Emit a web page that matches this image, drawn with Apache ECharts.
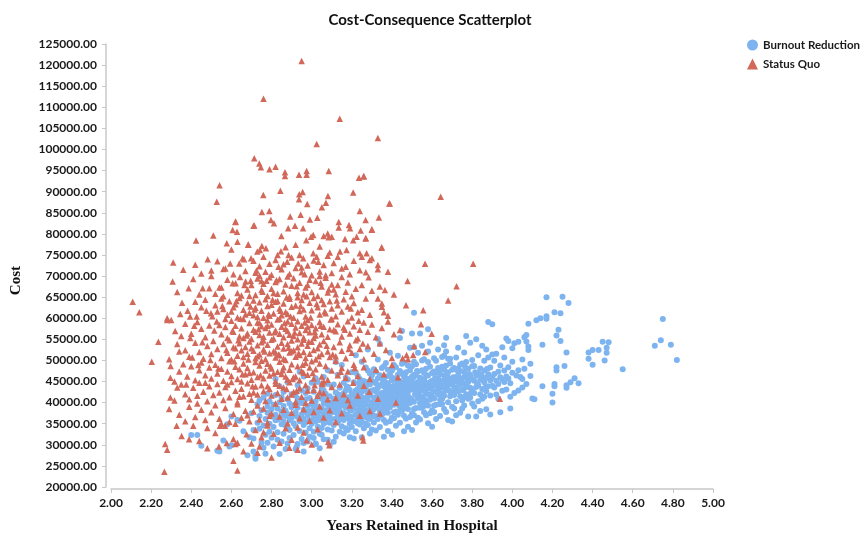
<!DOCTYPE html>
<html><head><meta charset="utf-8">
<script src="https://cdn.jsdelivr.net/npm/echarts@6/dist/echarts.min.js"></script>
<style>html,body{margin:0;padding:0;background:#fff}#c{width:860px;height:534px}</style>
</head><body><div id="c"></div>
<script>
const chartTitle = 'Cost-Consequence Scatterplot';
const seriesNames = ['Burnout Reduction', 'Status Quo'];
const xAxisTitle = 'Years Retained in Hospital';
const yAxisTitle = 'Cost';
const xTicks = [2.0, 5.0, 0.2];
const yTicks = [20000, 125000, 5000];

const burnoutReduction = [
[2.40,32300],[2.43,32300],[2.45,29800],[2.53,28600],[2.54,28400],[2.56,31000],[2.58,34900],[2.59,29600],[2.60,29900],[2.60,36700],[2.63,35900],[2.64,35700],[2.66,33200],[2.68,27500],[2.69,31800],
[2.70,37500],[2.71,33500],[2.71,31500],[2.71,28400],[2.72,27200],[2.72,26700],[2.72,27900],[2.73,39600],[2.73,35200],[2.74,36800],[2.74,33800],[2.75,30500],[2.75,38200],[2.76,34600],[2.76,41200],[2.77,27900],[2.77,36100],[2.77,32400],[2.78,30500],[2.78,37600],[2.78,39100],[2.79,35000],[2.79,33100],[2.79,40300],[2.80,36700],[2.80,31700],[2.80,38400],[2.76,29300],[2.74,40500],[2.78,42100],
[2.81,34200],[2.81,39500],[2.81,29600],[2.82,37100],[2.82,35800],[2.82,41800],[2.83,33000],[2.83,38600],[2.83,31200],[2.84,36400],[2.84,40100],[2.84,43900],[2.85,34900],[2.85,37900],[2.85,30800],[2.86,39200],[2.86,35500],[2.86,32600],[2.86,42500],[2.87,36800],[2.87,38100],[2.87,29000],[2.88,34000],[2.88,40800],[2.88,37300],[2.88,44800],[2.89,35900],[2.89,33500],[2.89,39800],[2.89,31600],[2.90,36400],[2.90,38900],[2.90,42000],[2.82,45600],[2.84,27800],[2.87,34600],[2.85,41300],[2.83,36000],[2.88,30300],[2.86,37000],
[2.91,35100],[2.91,39400],[2.91,32300],[2.92,37700],[2.92,41700],[2.92,34400],[2.93,36600],[2.93,38800],[2.93,30200],[2.93,44100],[2.94,35600],[2.94,40200],[2.94,33300],[2.95,37200],[2.95,39900],[2.95,42900],[2.95,31400],[2.96,36100],[2.96,34700],[2.96,38300],[2.96,46200],[2.97,35300],[2.97,40800],[2.97,32900],[2.97,37800],[2.98,36900],[2.98,39200],[2.98,43400],[2.98,30800],[2.99,35800],[2.99,38000],[2.99,41100],[2.99,33900],[3.00,37400],[3.00,35000],[3.00,39700],[3.00,44700],[2.92,29000],[2.94,47300],[2.96,28400],[2.97,42300],[2.95,36000],[2.99,31900],[2.91,37000],[2.93,40900],[2.925,29500],[2.96,30400],[3.02,30200],
[3.01,36300],[3.01,38700],[3.01,33100],[3.01,42600],[3.02,35500],[3.02,40300],[3.02,37600],[3.02,30300],[3.03,39100],[3.03,34300],[3.03,36800],[3.03,44900],[3.04,37900],[3.04,41800],[3.04,32600],[3.04,35900],[3.05,38600],[3.05,36500],[3.05,43300],[3.05,34000],[3.06,39800],[3.06,37100],[3.06,31300],[3.06,46100],[3.07,35400],[3.07,40700],[3.07,38200],[3.07,42100],[3.08,36600],[3.08,33600],[3.08,39500],[3.08,47700],[3.09,37300],[3.09,41500],[3.09,35200],[3.09,29900],[3.10,38900],[3.10,36100],[3.10,43800],[3.10,40100],[3.02,45800],[3.04,29200],[3.06,35000],[3.03,41400],[3.05,32400],[3.07,36900],[3.08,44500],[3.09,39000],[3.01,31600],[3.06,42900],[3.04,38300],[3.10,33400],[3.02,39000],[3.05,40900],[3.08,31200],
[3.11,37800],[3.11,40900],[3.11,34700],[3.11,44300],[3.12,38500],[3.12,36200],[3.12,42400],[3.12,31900],[3.13,39600],[3.13,37100],[3.13,46600],[3.13,35300],[3.14,40500],[3.14,38100],[3.14,33100],[3.14,43500],[3.15,36900],[3.15,39300],[3.15,41800],[3.15,48900],[3.16,37500],[3.16,35900],[3.16,44700],[3.16,40200],[3.17,38800],[3.17,42900],[3.17,33900],[3.17,36400],[3.18,39900],[3.18,41300],[3.18,37200],[3.18,45500],[3.19,38300],[3.19,35000],[3.19,43000],[3.19,40700],[3.20,39100],[3.20,36700],[3.20,47200],[3.20,34200],[3.11,30700],[3.13,42000],[3.15,34400],[3.17,40000],[3.19,31800],[3.12,49600],[3.14,36000],[3.16,42200],[3.18,33500],[3.20,41900],[3.13,38600],[3.15,37000],[3.17,45900],[3.19,36000],[3.12,40000],[3.14,41400],[3.16,32700],[3.18,43700],[3.20,38200],[3.11,39000],
[3.21,38700],[3.21,41600],[3.21,35600],[3.21,44800],[3.22,39700],[3.22,37200],[3.22,42900],[3.22,33200],[3.23,40800],[3.23,38200],[3.23,46300],[3.23,36300],[3.24,41900],[3.24,39200],[3.24,34800],[3.24,43800],[3.25,37700],[3.25,40300],[3.25,42500],[3.25,49700],[3.26,38600],[3.26,36800],[3.26,45100],[3.26,41100],[3.27,39500],[3.27,43900],[3.27,35000],[3.27,37900],[3.28,40600],[3.28,42100],[3.28,38000],[3.28,47600],[3.29,39200],[3.29,36100],[3.29,44300],[3.29,41800],[3.30,40000],[3.30,37400],[3.30,46500],[3.30,33600],[3.21,31500],[3.23,43200],[3.25,35500],[3.27,41000],[3.29,32700],[3.22,51200],[3.24,37000],[3.26,43300],[3.28,34700],[3.30,42800],[3.23,39700],[3.25,38400],[3.27,48300],[3.29,37200],[3.22,41000],[3.24,45600],[3.26,33900],[3.28,44900],[3.30,39100],[3.21,40200],[3.23,35100],[3.25,44300],[3.27,36600],[3.29,46900],[3.24,40700],[3.26,39800],[3.28,36300],[3.22,47100],[3.25,31800],[3.28,52600],
[3.31,41200],[3.31,38400],[3.31,44900],[3.31,35300],[3.32,42700],[3.32,40100],[3.32,47300],[3.32,36800],[3.33,43500],[3.33,39300],[3.33,41700],[3.33,50200],[3.34,38000],[3.34,44100],[3.34,40900],[3.34,34200],[3.35,42300],[3.35,45800],[3.35,39700],[3.35,37100],[3.36,41000],[3.36,43800],[3.36,48600],[3.36,35900],[3.37,40400],[3.37,42900],[3.37,38700],[3.37,46200],[3.38,41600],[3.38,44600],[3.38,37600],[3.38,33300],[3.39,43100],[3.39,40000],[3.39,51800],[3.39,38900],[3.40,42000],[3.40,45300],[3.40,36400],[3.40,39600],[3.31,47900],[3.32,33400],[3.33,45700],[3.34,37000],[3.35,48200],[3.36,39000],[3.37,35200],[3.38,42600],[3.39,46700],[3.40,32400],[3.31,43000],[3.32,38900],[3.33,36100],[3.34,46500],[3.35,41400],[3.36,37600],[3.37,44700],[3.38,39800],[3.39,35600],[3.40,43700],[3.32,44600],[3.34,42000],[3.36,45200],[3.38,47800],[3.33,40600],[3.35,38300],[3.37,41800],[3.39,42200],[3.31,36700],[3.34,53900],[3.36,31900],[3.38,40500],[3.40,47600],[3.33,55100],[3.37,49400],
[3.41,42400],[3.41,39500],[3.41,45800],[3.41,36300],[3.42,43700],[3.42,41000],[3.42,48400],[3.42,37900],[3.43,44200],[3.43,40300],[3.43,42600],[3.43,51100],[3.44,39100],[3.44,45100],[3.44,41900],[3.44,35200],[3.45,43300],[3.45,46900],[3.45,40600],[3.45,38100],[3.46,42000],[3.46,44800],[3.46,49500],[3.46,36900],[3.47,41300],[3.47,43900],[3.47,39600],[3.47,47200],[3.48,42500],[3.48,45600],[3.48,38500],[3.48,34300],[3.49,44000],[3.49,41100],[3.49,53000],[3.49,39900],[3.50,43100],[3.50,46200],[3.50,37400],[3.50,40700],[3.41,48900],[3.42,34500],[3.43,46600],[3.44,38000],[3.45,49200],[3.46,40000],[3.47,36200],[3.48,43600],[3.49,47700],[3.50,33500],[3.41,44000],[3.42,39800],[3.43,37100],[3.44,47500],[3.45,42400],[3.46,38600],[3.47,45700],[3.48,40800],[3.49,36600],[3.50,44700],[3.42,45600],[3.44,43000],[3.46,46200],[3.48,48800],[3.43,41600],[3.45,39300],[3.47,42800],[3.49,43200],[3.41,37700],[3.44,55300],[3.46,33200],[3.48,41500],[3.50,48600],[3.45,57000],[3.51,61300],[3.50,56400],
[3.51,43400],[3.51,40200],[3.51,46600],[3.51,37000],[3.52,44500],[3.52,41800],[3.52,49100],[3.52,38700],[3.53,44900],[3.53,41100],[3.53,43300],[3.53,51800],[3.54,39900],[3.54,45900],[3.54,42700],[3.54,36000],[3.55,44100],[3.55,47700],[3.55,41400],[3.55,38900],[3.56,42800],[3.56,45600],[3.56,50300],[3.56,37700],[3.57,42100],[3.57,44700],[3.57,40400],[3.57,48000],[3.58,43300],[3.58,46400],[3.58,39300],[3.58,35100],[3.59,44800],[3.59,41900],[3.59,54200],[3.59,40700],[3.60,43900],[3.60,47000],[3.60,38200],[3.60,41500],[3.51,49700],[3.52,35300],[3.53,47400],[3.54,38800],[3.55,50000],[3.56,40800],[3.57,37000],[3.58,44400],[3.59,48500],[3.60,34300],[3.52,46400],[3.54,43800],[3.56,47000],[3.58,49600],[3.53,42400],[3.55,40100],[3.57,43600],[3.59,44000],[3.51,38500],[3.54,56400],[3.58,57400],[3.55,53500],[3.53,36400],[3.58,52100],[3.60,45200],[3.52,42600],[3.56,39200],[3.59,37500],[3.51,53100],[3.54,41300],
[3.61,44200],[3.61,41000],[3.61,47400],[3.61,37800],[3.62,45300],[3.62,42600],[3.62,49900],[3.62,39500],[3.63,45700],[3.63,41900],[3.63,44100],[3.63,52600],[3.64,40700],[3.64,46700],[3.64,43500],[3.64,36800],[3.65,44900],[3.65,48500],[3.65,42200],[3.65,39700],[3.66,43600],[3.66,46400],[3.66,51100],[3.66,38500],[3.67,42900],[3.67,45500],[3.67,55400],[3.67,48800],[3.68,44100],[3.68,47200],[3.68,40100],[3.68,35900],[3.69,45600],[3.69,42700],[3.69,50400],[3.69,41500],[3.70,44700],[3.70,47800],[3.70,39000],[3.70,42300],[3.61,50500],[3.62,36100],[3.63,48200],[3.64,39600],[3.65,50800],[3.66,41600],[3.67,37800],[3.68,45200],[3.69,49300],[3.70,35500],[3.62,47200],[3.64,44600],[3.66,47800],[3.68,50400],[3.63,43200],[3.65,40900],[3.67,44400],[3.69,44800],[3.61,39300],[3.66,53600],[3.67,52100],
[3.71,45000],[3.71,41800],[3.71,48200],[3.71,38600],[3.72,46100],[3.72,43400],[3.72,50700],[3.72,40300],[3.73,46500],[3.73,42700],[3.73,44900],[3.73,53000],[3.74,41500],[3.74,47500],[3.74,44300],[3.74,37600],[3.75,45700],[3.75,49300],[3.75,43000],[3.75,40500],[3.76,44400],[3.76,47200],[3.76,51900],[3.76,39300],[3.77,43700],[3.77,46300],[3.77,42000],[3.77,49600],[3.78,44900],[3.78,48000],[3.78,40900],[3.78,36700],[3.79,46400],[3.79,43500],[3.79,54200],[3.80,45500],[3.80,48600],[3.80,39800],[3.80,43100],[3.72,37000],[3.74,49000],[3.76,41300],[3.78,45600],[3.80,50100],[3.73,48000],[3.75,38600],[3.77,55800],[3.79,41200],[3.71,43700],[3.76,46000],
[3.81,45200],[3.81,42300],[3.81,48700],[3.81,39100],[3.82,46400],[3.82,43700],[3.82,36700],[3.83,47000],[3.83,44100],[3.83,51200],[3.84,42000],[3.84,48100],[3.84,45400],[3.85,46100],[3.85,43200],[3.85,53500],[3.85,40900],[3.86,44800],[3.86,47600],[3.86,49900],[3.87,45900],[3.87,42700],[3.87,38400],[3.88,46700],[3.88,43900],[3.88,59100],[3.88,50700],[3.89,45300],[3.89,41700],[3.89,48300],[3.90,46100],[3.90,44000],[3.90,58600],[3.90,51400],[3.82,55000],[3.84,38000],[3.86,41400],[3.83,40300],[3.87,52600],[3.89,37200],
[3.91,46800],[3.91,43600],[3.91,49900],[3.92,45200],[3.92,51600],[3.92,41900],[3.93,47300],[3.93,44400],[3.93,40900],[3.94,46000],[3.94,48800],[3.94,37700],[3.95,45500],[3.95,53100],[3.95,42800],[3.96,47600],[3.96,44900],[3.96,50700],[3.97,46200],[3.97,43100],[3.97,55200],[3.98,45700],[3.98,48400],[3.98,54600],[3.99,44600],[3.99,41400],[4.00,47100],[4.00,49700],[4.00,52900],[3.99,38600],
[4.01,54100],[4.01,42300],[4.02,46400],[4.03,54400],[4.03,47700],[4.03,42900],[4.04,46100],[4.05,43600],[4.05,45600],[4.05,50200],[4.06,55500],[4.06,48000],[4.07,54500],[4.07,44400],[4.07,56000],[4.08,58700],[4.08,53300],[4.08,52500],[4.09,46300],[4.09,49200],[4.10,41000],[4.11,40800],
[4.12,59500],[4.14,60000],[4.15,53700],[4.15,43900],[4.17,60500],[4.17,59900],[4.17,65000],[4.20,42100],[4.20,40000],[4.21,44400],[4.21,43900],[4.21,61400],[4.22,55900],[4.22,48400],[4.22,47600],[4.23,57300],[4.24,54600],[4.24,61200],[4.25,65100],[4.26,48700],[4.27,51900],[4.27,44100],[4.27,43500],[4.28,63600],[4.29,44800],
[4.31,45800],[4.33,44600],[4.38,51900],[4.38,50400],[4.40,52500],[4.40,49000],[4.43,52500],[4.45,54400],[4.46,50000],[4.47,51800],[4.47,53000],[4.48,54300],[4.55,47900],[4.71,53500],[4.74,54800],[4.75,59800],[4.79,53700],[4.82,50100],
[3.155,41100],[3.175,43800],[3.195,39600],[3.215,42300],[3.235,44600],[3.255,40700],[3.275,42800],[3.295,45500],[3.315,39900],[3.325,43200],[3.345,41600],[3.355,44700],[3.365,40300],[3.385,43900],[3.395,46100],[3.405,40900],[3.415,43400],[3.425,45200],[3.435,39400],[3.445,44100],[3.455,41200],[3.465,46800],[3.475,42900],[3.485,44700],[3.495,40200],[3.505,45800],[3.515,42000],[3.525,47500],[3.535,43800],[3.545,40600],[3.555,45300],[3.565,43100],[3.575,46400],[3.585,41800],[3.595,44900],[3.605,42700],[3.615,45900],[3.625,43900],[3.635,47300],[3.645,42100],[3.655,45200],[3.665,43500],[3.675,46600],[3.685,42900],[3.695,44400],[3.705,46000],[3.715,42600],[3.725,47700],[3.735,44200],[3.745,45400],[3.755,43000],[3.765,48400],[3.775,44800],[3.785,46800],[3.795,42400],[3.815,47200],[3.825,44500],[3.845,46600],[3.865,43500],[3.875,48000]
];

const statusQuo = [
[2.95,121000],[2.76,112000],[3.14,107300],[3.33,102700],[3.025,101300],[2.714,97900],[2.739,96700],[2.747,95800],[2.79,95300],[2.82,95900],[2.867,94600],[2.867,93700],[2.937,94000],[2.975,94900],[2.975,94000],[3.085,94900],[3.236,93300],[3.259,93600],
[2.541,91500],[2.527,87600],[2.844,90200],[2.759,89200],[2.938,89400],[2.955,89900],[2.937,88200],[2.978,87100],[3.081,89000],[3.071,87400],[3.051,86300],[3.207,89800],[3.387,87200],[3.643,88800],[3.26,93700],[3.389,87200],
[2.752,85200],[2.789,85400],[2.621,82900],[2.714,82000],[2.797,83300],[2.812,82500],[2.893,84100],[2.945,84500],[2.991,83400],[3.028,83800],[3.24,85400],[3.269,83300],[3.335,83900],[2.71,81900],[3.135,82800],[3.135,81500],[3.186,82100],[3.191,81300],[2.883,81300],[2.917,81900],[2.957,81300],[3.244,80800],[3.30,81000],[3.30,81100],[2.606,80900],[2.628,80500],[2.62,82800],
[2.424,78400],[2.51,79600],[2.577,77800],[2.63,78100],[2.684,77400],[2.684,77500],[2.752,77100],[2.729,75800],[2.849,79500],[2.973,78500],[2.997,79300],[3.008,79700],[3.06,79500],[3.08,80100],[3.085,79200],[3.10,79300],[3.166,78800],[3.207,78500],[3.224,79300],[3.269,78900],[3.27,79000],[3.349,76800],[3.349,76700],[2.742,76200],[2.772,76600],[2.847,75900],[2.83,75000],[2.87,76800],[2.885,75000],[2.94,75000],[3.008,75400],[3.09,75600],[3.141,75800],[3.174,76200],[3.24,75400],[3.274,75400],[3.25,74600],[3.29,73800],[2.60,76300],[2.92,77400],[3.04,77000],
[2.31,73200],[2.36,71500],[2.42,72700],[2.45,70600],[2.482,74000],[2.50,71300],[2.53,73500],[2.56,71700],[2.57,71800],[2.594,73000],[2.61,70400],[2.639,73000],[2.656,74200],[2.663,74000],[2.67,71200],[2.698,74200],[2.71,73600],[2.72,70800],[2.74,72300],[2.76,74600],[2.77,71000],[2.79,72900],[2.80,70300],[2.82,73800],[2.85,71600],[2.86,72800],[2.878,73400],[2.89,70500],[2.90,74400],[2.92,71900],[2.933,73000],[2.95,70900],[2.958,74200],[2.98,72500],[3.00,70200],[3.01,73700],[3.033,73400],[3.025,74600],[3.04,71100],[3.06,72600],[3.08,74800],[3.10,70700],[3.11,73100],[3.13,74600],[3.15,71800],[3.17,72200],[3.19,70400],[3.21,73600],[3.24,71400],[3.27,70900],[3.30,74200],[3.33,72600],[3.33,71600],[3.38,71000],[3.565,72900],[3.805,72900],[2.74,70100],[2.95,72000],[3.07,70200],
[2.307,68700],[2.33,66200],[2.387,67100],[2.41,69300],[2.44,65600],[2.457,67100],[2.49,67100],[2.50,70000],[2.52,65800],[2.54,67300],[2.55,67300],[2.56,65200],[2.58,69100],[2.606,68300],[2.621,68300],[2.63,66000],[2.643,69800],[2.65,65400],[2.671,68700],[2.68,66800],[2.696,68900],[2.70,67900],[2.72,65500],[2.73,69400],[2.75,66700],[2.76,68200],[2.78,65300],[2.79,69700],[2.80,67000],[2.82,68600],[2.83,65800],[2.84,69300],[2.86,66400],[2.87,68000],[2.89,65100],[2.90,67700],[2.91,69500],[2.93,66000],[2.94,68400],[2.96,65600],[2.97,67300],[2.99,69100],[3.00,66200],[3.02,68800],[3.03,65300],[3.05,67500],[3.07,69600],[3.08,66100],[3.10,68000],[3.12,65700],[3.13,67900],[3.15,69800],[3.17,66300],[3.18,68500],[3.20,65200],[3.22,67000],[3.25,67900],[3.284,69700],[3.30,66500],[3.34,67500],[3.365,66700],[3.41,65600],[3.478,68800],[3.722,67600],[2.81,66000],[2.88,69900],[2.98,67900],[3.04,70000],[2.75,68800],[2.69,65300],[3.11,66800],
[2.108,63900],[2.141,61400],[2.28,60000],[2.345,61000],[2.354,63700],[2.382,61800],[2.394,60400],[2.42,63900],[2.427,60400],[2.45,62600],[2.47,64400],[2.498,61200],[2.505,60500],[2.52,63100],[2.55,64700],[2.56,62200],[2.58,60800],[2.59,64000],[2.60,61600],[2.62,63300],[2.63,60200],[2.64,64800],[2.66,62000],[2.67,60900],[2.68,63600],[2.69,61300],[2.71,64200],[2.72,62500],[2.73,60300],[2.74,63800],[2.75,61800],[2.77,64500],[2.78,62900],[2.79,60600],[2.80,63200],[2.81,61100],[2.83,64100],[2.84,62300],[2.85,60700],[2.86,63500],[2.87,61500],[2.89,64600],[2.90,62700],[2.91,60100],[2.92,63000],[2.94,61700],[2.95,64300],[2.96,62100],[2.97,60400],[2.99,63700],[3.00,61900],[3.01,64800],[3.03,62600],[3.04,60900],[3.06,63400],[3.07,61200],[3.09,64000],[3.10,62300],[3.12,60500],[3.13,63100],[3.15,61600],[3.16,64500],[3.18,62800],[3.20,60200],[3.21,63600],[3.23,61400],[3.25,62000],[3.27,64700],[3.29,60800],[3.33,64700],[3.35,63500],[3.35,62700],[3.36,61400],[3.38,60600],[3.47,63100],[3.556,61900],[3.68,64200],[2.76,60100],[2.82,63900],[2.88,61000],[2.93,65000],[2.71,60700],[3.05,64300],[2.61,62600],[2.53,61600],
[2.28,59600],[2.30,59600],[2.32,57000],[2.35,55800],[2.37,58700],[2.40,56300],[2.43,59100],[2.45,57500],[2.47,55500],[2.49,58300],[2.527,59200],[2.54,58400],[2.55,56200],[2.57,57900],[2.58,55300],[2.60,59400],[2.61,56800],[2.62,58200],[2.64,55700],[2.65,57600],[2.66,59800],[2.68,56400],[2.69,58900],[2.70,55100],[2.71,57300],[2.73,59000],[2.74,56000],[2.75,58100],[2.76,55600],[2.77,57700],[2.78,59500],[2.79,56600],[2.80,58500],[2.81,55200],[2.82,57100],[2.83,59700],[2.84,56300],[2.85,58000],[2.86,55500],[2.87,57500],[2.88,59200],[2.89,56100],[2.90,58700],[2.91,55800],[2.92,57800],[2.93,59300],[2.94,56500],[2.95,58200],[2.96,55400],[2.97,57200],[2.98,59600],[2.99,56700],[3.00,58400],[3.01,55300],[3.02,57600],[3.04,59100],[3.05,56200],[3.06,58000],[3.08,55600],[3.09,57400],[3.10,59800],[3.12,56900],[3.13,58600],[3.15,55700],[3.16,57800],[3.18,59300],[3.19,56400],[3.21,58100],[3.23,55200],[3.24,57300],[3.26,59000],[3.28,56800],[3.30,58500],[3.32,55500],[3.35,57700],[3.38,59200],[3.41,56200],[3.44,57200],[3.545,58600],[2.72,56800],[2.78,58200],[2.84,59900],[2.88,57000],[2.93,55000],[3.02,55900],[2.66,55300],[2.57,59800],[3.11,57200],[2.98,57900],[2.74,58900],
[2.236,54400],[2.29,50300],[2.33,53900],[2.34,52100],[2.37,52400],[2.39,50900],[2.405,50700],[2.42,54200],[2.44,52000],[2.46,50400],[2.48,53400],[2.50,51500],[2.51,54600],[2.53,52700],[2.55,50600],[2.56,53900],[2.58,51800],[2.59,54800],[2.60,50200],[2.62,52900],[2.63,51100],[2.64,54100],[2.66,50800],[2.67,53200],[2.68,51600],[2.69,54500],[2.71,52300],[2.72,50500],[2.73,53600],[2.74,51400],[2.75,54300],[2.76,52600],[2.77,50300],[2.78,53700],[2.79,51700],[2.80,54900],[2.81,52200],[2.82,50700],[2.83,53300],[2.84,51200],[2.85,54200],[2.86,52800],[2.87,50100],[2.88,53900],[2.89,51900],[2.90,54700],[2.91,52400],[2.92,50900],[2.93,53100],[2.94,51300],[2.95,54000],[2.96,52000],[2.97,50600],[2.98,53500],[2.99,51600],[3.00,54400],[3.01,52500],[3.02,50200],[3.04,53800],[3.05,51500],[3.06,54600],[3.08,52100],[3.09,50800],[3.11,53200],[3.12,51000],[3.14,54300],[3.15,52300],[3.17,50500],[3.19,53600],[3.20,51800],[3.22,54800],[3.24,52700],[3.26,50300],[3.28,53400],[3.31,51600],[3.34,54100],[3.37,52500],[3.40,50600],[3.453,50500],[3.473,51300],[3.48,50300],[3.506,51300],[3.51,53400],[3.566,52000],[3.598,56300],[2.70,52900],[2.76,54700],[2.82,51900],[2.86,50400],[2.90,52200],[2.65,52400],[2.96,54900],[3.03,52900],[2.73,51000],[2.61,53100],
[2.203,49700],[2.297,48700],[2.296,45900],[2.316,45000],[2.34,47400],[2.36,49100],[2.38,46200],[2.40,48600],[2.42,45300],[2.44,47700],[2.45,49500],[2.47,46500],[2.49,48300],[2.50,45700],[2.52,49000],[2.53,46900],[2.55,48000],[2.56,45200],[2.58,47400],[2.59,49800],[2.60,46300],[2.62,48500],[2.63,45600],[2.64,47900],[2.66,49300],[2.67,46700],[2.68,48200],[2.70,45400],[2.71,47200],[2.72,49600],[2.73,46100],[2.74,48800],[2.76,45800],[2.77,47600],[2.78,49200],[2.79,46400],[2.80,48100],[2.82,45100],[2.83,47300],[2.84,49700],[2.85,46800],[2.86,48400],[2.88,45500],[2.89,47800],[2.90,49100],[2.91,46000],[2.93,48600],[2.94,45300],[2.95,47500],[2.97,49400],[2.98,46600],[2.99,48300],[3.01,45700],[3.02,47900],[3.04,49300],[3.05,46200],[3.07,48700],[3.08,45400],[3.10,47600],[3.12,49900],[3.13,46500],[3.15,48200],[3.17,45900],[3.18,47400],[3.21,49000],[3.23,46300],[3.26,48400],[3.29,45600],[3.32,47800],[3.36,46700],[3.40,48900],[3.43,46000],[2.65,45000],[2.75,49900],[2.87,46200],[2.96,47100],[3.00,49800],[2.69,47000],[2.81,46900],[3.06,45000],[2.92,46200],
[2.296,41200],[2.316,40500],[2.33,43600],[2.35,44300],[2.37,42000],[2.39,40800],[2.41,43500],[2.43,41600],[2.44,44700],[2.46,42600],[2.48,40300],[2.49,43900],[2.51,41800],[2.53,44400],[2.54,42400],[2.56,40600],[2.57,43700],[2.59,41300],[2.60,44900],[2.62,42800],[2.63,40100],[2.65,43300],[2.66,41500],[2.68,44600],[2.69,42100],[2.70,40700],[2.72,43800],[2.73,41900],[2.75,44100],[2.76,42700],[2.77,40400],[2.79,43200],[2.80,41700],[2.82,44500],[2.83,42300],[2.85,40900],[2.86,43600],[2.88,41200],[2.89,44800],[2.91,42500],[2.92,40200],[2.94,43400],[2.95,41400],[2.97,44200],[2.98,42900],[3.00,40500],[3.01,43000],[3.03,41600],[3.05,44600],[3.06,42200],[3.08,40800],[3.10,43700],[3.12,41100],[3.14,44300],[3.16,42000],[3.18,40600],[3.207,44700],[3.23,41700],[3.26,44000],[3.287,42600],[3.33,40900],[3.42,40000],[3.938,40900],[2.58,44300],[2.71,42400],[2.84,44000],[2.90,41900],[2.64,41400],[3.04,42500],[2.78,43900],[2.47,44700],
[2.29,38500],[2.34,37100],[2.37,35600],[2.39,39000],[2.42,36600],[2.45,38300],[2.47,35900],[2.50,37700],[2.52,39400],[2.54,36200],[2.57,38700],[2.59,35400],[2.61,37300],[2.63,39600],[2.65,36400],[2.67,38100],[2.69,35600],[2.71,37900],[2.73,39300],[2.74,36000],[2.76,38600],[2.78,35300],[2.80,37400],[2.82,39800],[2.84,36700],[2.86,38300],[2.88,35100],[2.90,37600],[2.92,39500],[2.94,36300],[2.96,38400],[2.99,35700],[3.01,37800],[3.04,39100],[3.06,36500],[3.09,38200],[3.12,35400],[3.15,37500],[3.19,39300],[3.24,36900],[3.29,38000],[3.34,37400],[2.43,39800],[2.55,35000],[2.68,37000],[2.79,36900],[2.97,39900],[2.62,35000],
[2.327,34500],[2.41,34500],[2.352,32100],[2.389,31300],[2.44,30900],[2.48,34000],[2.52,32800],[2.543,34500],[2.568,34500],[2.577,30400],[2.61,31400],[2.63,30500],[2.676,32500],[2.70,30300],[2.72,33500],[2.75,31800],[2.78,34600],[2.81,32600],[2.84,30500],[2.87,33900],[2.90,31200],[2.93,34100],[2.975,31100],[2.96,32900],[3.00,30100],[3.03,33700],[3.083,30700],[3.088,29900],[3.254,31800],[3.257,31000],[2.62,30200],[2.76,33000],
[2.27,30200],[2.28,28800],[2.266,23600],[2.61,26200],[2.63,23900],[2.73,28100],[2.80,27000],[3.046,26800],[2.538,29600],[2.66,28500],[2.889,29300],[2.93,28800],[2.74,29600],[2.48,29200],
[2.715,62100],[2.735,57400],[2.755,66300],[2.765,52100],[2.785,60900],[2.795,48600],[2.805,64400],[2.815,56700],[2.825,69000],[2.835,51400],[2.845,61800],[2.855,47700],[2.865,58900],[2.875,64900],[2.885,53000],[2.895,60400],[2.905,45600],[2.915,56600],[2.925,67600],[2.935,51700],[2.945,62900],[2.955,49000],[2.965,59000],[2.975,65200],[2.985,54400],[2.995,60200],[3.005,47000],[3.015,56800],[3.025,63400],[3.035,51000],[3.045,58200],[3.055,44400],[3.065,61600],[3.075,53500],[3.085,66800],[2.605,57000],[2.615,49800],[2.625,64100],[2.635,54800],[2.645,59900],[2.655,46700],[2.665,67900],[2.675,55900],[2.685,50200],[2.695,62800],[2.705,43900],[2.725,71300],[2.745,46500],[2.775,68900],[2.835,72200],[2.875,43200],[2.925,42800],[2.965,70400],[3.015,44100],[3.045,68400],[3.095,59700],[3.105,51400],[3.125,64200],[3.145,47300],[3.165,57300],[3.185,52700],[3.195,62300],[3.215,48200],[3.235,59400],[3.255,54000],[2.575,52500],[2.555,62900],[2.535,48100],[2.515,57100],[2.495,50100],[2.475,61800],[2.455,54300],[2.435,48900],[2.415,58200],[2.395,55300],[2.375,44300]
];

const chart = echarts.init(document.getElementById('c'), null, {renderer: 'canvas'});
const tickFont = {color: '#1a1a1a', fontSize: 12, fontWeight: 'bold', fontFamily: 'Lato, "Open Sans", sans-serif'};
chart.setOption({
  animation: false,
  backgroundColor: '#ffffff',
  title: {
    text: chartTitle, left: 'center', top: 8,
    textStyle: {fontSize: 15, fontWeight: 'bold', color: '#111', fontFamily: 'Lato, "Open Sans", sans-serif'}
  },
  legend: {
    orient: 'vertical', left: 742, top: 34, itemGap: 7, itemWidth: 11, itemHeight: 11,
    textStyle: {fontSize: 11.5, fontWeight: 'bold', color: '#1a1a1a', fontFamily: 'Lato, "Open Sans", sans-serif'},
    data: seriesNames
  },
  grid: {left: 111, right: 147, top: 44, bottom: 47, containLabel: false, outerBoundsMode: 'none'},
  xAxis: {
    type: 'value', min: xTicks[0], max: xTicks[1], interval: xTicks[2], offset: 2,
    name: xAxisTitle, nameLocation: 'middle', nameGap: 30,
    nameTextStyle: {fontFamily: '"Liberation Serif", "Times New Roman", serif', fontWeight: 'bold', fontSize: 15, color: '#111'},
    axisLine: {show: true, lineStyle: {color: '#c8c8c8', width: 1.5}},
    axisTick: {show: true, length: 4, lineStyle: {color: '#c8c8c8'}},
    axisLabel: Object.assign({margin: 8, formatter: v => v.toFixed(2)}, tickFont),
    splitLine: {show: false}
  },
  yAxis: {
    type: 'value', min: yTicks[0], max: yTicks[1], interval: yTicks[2], offset: 5,
    axisLine: {show: true, lineStyle: {color: '#c8c8c8', width: 1.5}},
    axisTick: {show: true, length: 4, lineStyle: {color: '#c8c8c8'}},
    axisLabel: Object.assign({margin: 9, formatter: v => v.toFixed(2)}, tickFont),
    splitLine: {show: false}
  },
  graphic: [{
    type: 'text', left: 9, top: 266, rotation: Math.PI / 2,
    style: {text: yAxisTitle, font: 'bold 15px "Liberation Serif", "Times New Roman", serif', fill: '#111'}
  }],
  series: [
    {name: seriesNames[0], type: 'scatter', symbol: 'circle', symbolSize: 6,
     itemStyle: {color: '#7db4ef', opacity: 1}, data: burnoutReduction, z: 2},
    {name: seriesNames[1], type: 'scatter', symbol: 'triangle', symbolSize: 6.5,
     itemStyle: {color: '#d2685a', opacity: 1}, data: statusQuo, z: 3}
  ]
});
</script>
</body></html>
